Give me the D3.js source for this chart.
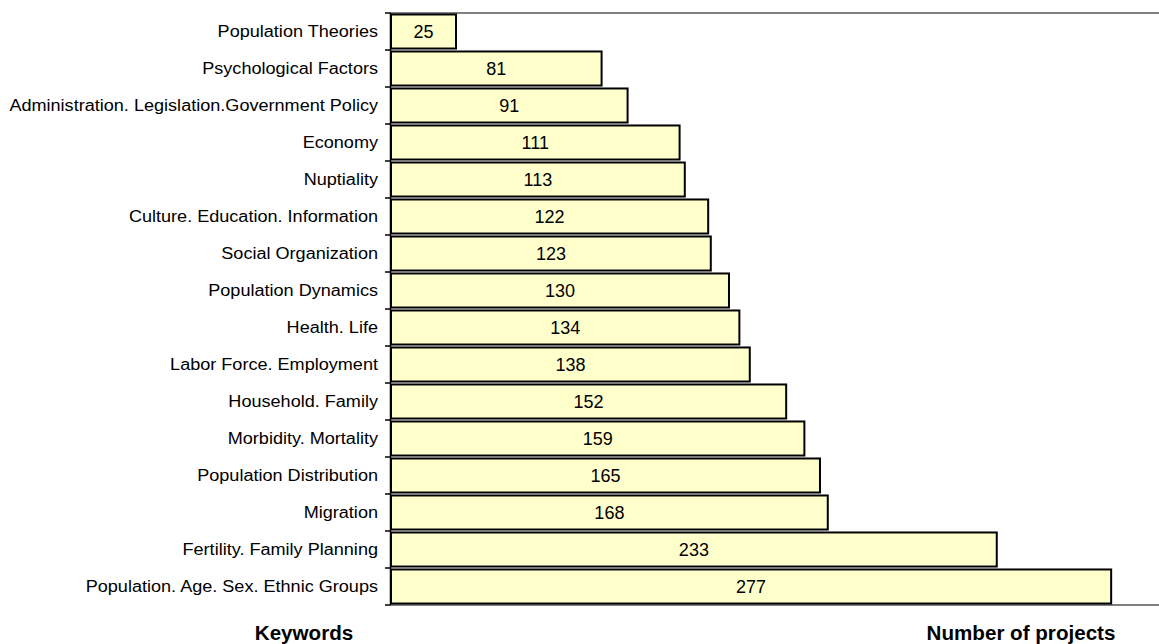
<!DOCTYPE html>
<html>
<head>
<meta charset="utf-8">
<script src="https://cdn.jsdelivr.net/npm/d3@7"></script>
<style>
  html, body { margin: 0; padding: 0; background: #fff; }
  svg { display: block; font-family: "Liberation Sans", Arial, sans-serif; }
</style>
</head>
<body>
<svg id="chart" width="1159" height="644"></svg>
<script>
// Research keywords and number of projects per keyword (top to bottom)
const keywords = [
  "Population Theories",
  "Psychological Factors",
  "Administration. Legislation.Government Policy",
  "Economy",
  "Nuptiality",
  "Culture. Education. Information",
  "Social Organization",
  "Population Dynamics",
  "Health. Life",
  "Labor Force. Employment",
  "Household. Family",
  "Morbidity. Mortality",
  "Population Distribution",
  "Migration",
  "Fertility. Family Planning",
  "Population. Age. Sex. Ethnic Groups"
];
const projects = [25, 81, 91, 111, 113, 122, 123, 130, 134, 138, 152, 159, 165, 168, 233, 277];
const xAxisTitle = "Number of projects";
const yAxisTitle = "Keywords";

const svg = d3.select("#chart");
const W = 1159, H = 644;
const plot = { left: 391, right: W, top: 13, bottom: 605 };

const x = d3.scaleLinear().domain([0, 295.4]).range([plot.left, plot.right]);
const y = d3.scaleBand().domain(keywords).range([plot.top, plot.bottom]).paddingInner(0.08).paddingOuter(0.04);

// writes a text element, optionally widened horizontally around its anchor point
function wideText(sel, px, py, sx) {
  return sel.attr("x", 0).attr("y", 0)
    .attr("transform", (d, i) => `translate(${px(d, i)},${py(d, i)}) scale(${sx},1)`);
}

// plot frame lines top and bottom
svg.append("line")
  .attr("x1", plot.left).attr("x2", plot.right)
  .attr("y1", plot.top).attr("y2", plot.top)
  .attr("stroke", "#808080").attr("stroke-width", 2);
svg.append("line")
  .attr("x1", plot.left).attr("x2", plot.right)
  .attr("y1", plot.bottom).attr("y2", plot.bottom)
  .attr("stroke", "#808080").attr("stroke-width", 2);

// bars
const data = keywords.map((k, i) => ({ k, v: projects[i] }));
svg.append("g").selectAll("rect").data(data).join("rect")
  .attr("x", x(0))
  .attr("y", d => y(d.k))
  .attr("width", d => x(d.v) - x(0))
  .attr("height", y.bandwidth())
  .attr("fill", "#FFFFCC")
  .attr("stroke", "#000")
  .attr("stroke-width", 2);

// value labels
svg.append("g").selectAll("text").data(data).join("text")
  .call(wideText, d => (x(0) + x(d.v)) / 2, d => y(d.k) + y.bandwidth() / 2, 1)
  .attr("dy", "0.36em")
  .attr("text-anchor", "middle")
  .attr("font-size", 18)
  .attr("fill", "#000")
  .text(d => d.v);

// category axis with boundary ticks
const yAxis = svg.append("g");
yAxis.append("line")
  .attr("x1", plot.left - 0.5).attr("x2", plot.left - 0.5)
  .attr("y1", plot.top).attr("y2", plot.bottom)
  .attr("stroke", "#000").attr("stroke-width", 1.5);
const step = (plot.bottom - plot.top) / keywords.length;
yAxis.selectAll("line.tick").data(d3.range(keywords.length + 1)).join("line")
  .attr("class", "tick")
  .attr("x1", plot.left - 6).attr("x2", plot.left)
  .attr("y1", i => plot.top + i * step).attr("y2", i => plot.top + i * step)
  .attr("stroke", "#000").attr("stroke-width", 1.5);
yAxis.selectAll("text").data(keywords).join("text")
  .call(wideText, () => plot.left - 13, d => y(d) + y.bandwidth() / 2, 1.13)
  .attr("dy", "0.36em")
  .attr("text-anchor", "end")
  .attr("font-size", 16)
  .attr("fill", "#000")
  .text(d => d);

// axis titles
svg.append("text").datum(yAxisTitle)
  .call(wideText, () => 304, () => 640, 1.03)
  .attr("text-anchor", "middle")
  .attr("font-size", 20).attr("font-weight", "bold")
  .text(d => d);
svg.append("text").datum(xAxisTitle)
  .call(wideText, () => 1021, () => 640, 1.03)
  .attr("text-anchor", "middle")
  .attr("font-size", 20).attr("font-weight", "bold")
  .text(d => d);
</script>
</body>
</html>
